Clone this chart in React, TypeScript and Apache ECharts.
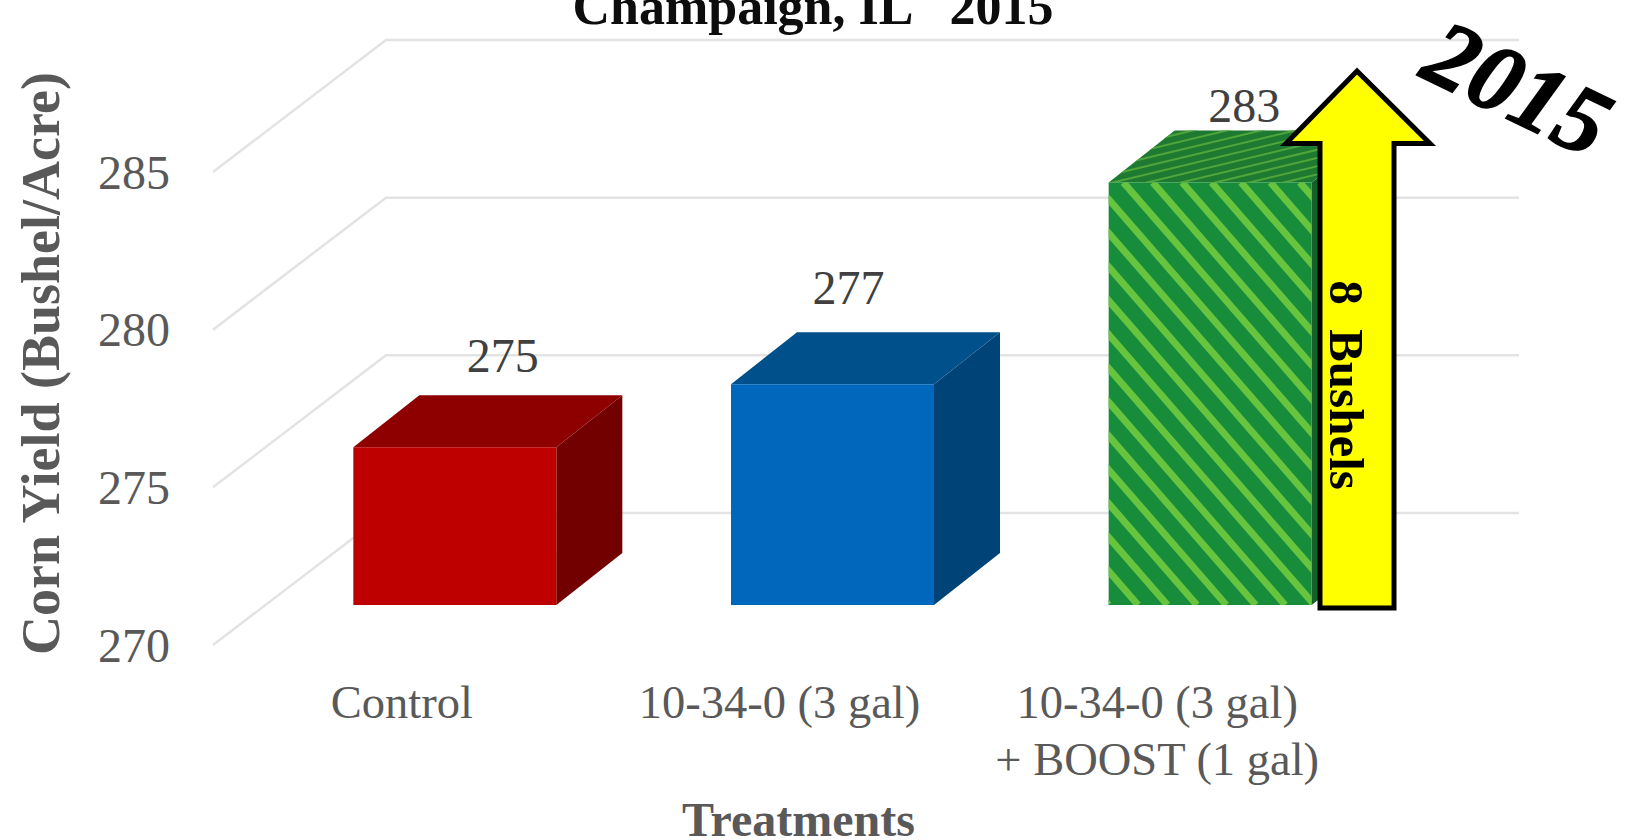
import React, { useEffect, useRef } from "react";
import * as echarts from "echarts";

const categories = ["Control", "10-34-0 (3 gal)", "10-34-0 (3 gal)\n+ BOOST (1 gal)"];
const yieldValues = [275, 277, 283.4];
const gridTicks = [270, 275, 280, 285];
const titleText = "Champaign, IL   2015";
const yearStamp = "2015";
const arrowText = "8  Bushels";
const yAxisTitle = "Corn Yield (Bushel/Acre)";
const xAxisTitle = "Treatments";

const SERIF = "'Liberation Serif', 'DejaVu Serif', serif";
const faces = [
  { front: "#BE0000", top: "#8E0000", side: "#720000" },
  { front: "#0068BC", top: "#00508C", side: "#004377" },
  { front: "#178C3A", top: "#1E7A30", side: "#145F2A", stripe: "#66C43F", topStripe: "#4FA63A" },
];
const labelNudge = [[48, -92], [16, -97], [34, -77]];
const wallDepth = [173, 132];
const barInset = [53, 40];
const barDepth = [66, 52];

function renderGrid(params: any, api: any) {
  const p = api.coord([0, api.value(1)]);
  const x0 = params.coordSys.x;
  const x1 = x0 + params.coordSys.width;
  const y = p[1];
  const style = { stroke: "#E3E3E3", lineWidth: 2.5, fill: "none" };
  return {
    type: "polyline",
    shape: { points: [[x0, y], [x0 + wallDepth[0], y - wallDepth[1]], [x1 + wallDepth[0], y - wallDepth[1]]] },
    style,
  };
}

function renderBar(params: any, api: any) {
  const i = api.value(0);
  const v = api.value(1);
  const top = api.coord([i, v]);
  const base = api.coord([i, 270]);
  const w = api.size([1, 0])[0] * 0.5375;
  const x = top[0] + barInset[0] - w / 2;
  const yT = top[1] - barInset[1];
  const yB = base[1] - barInset[1];
  const [dx, dy] = barDepth;
  const c: any = faces[i];
  const children: any[] = [
    { type: "polygon", shape: { points: [[x + w, yT], [x + w + dx, yT - dy], [x + w + dx, yB - dy], [x + w, yB]] }, style: { fill: c.side } },
    { type: "polygon", shape: { points: [[x, yT], [x + w, yT], [x + w + dx, yT - dy], [x + dx, yT - dy]] }, style: { fill: c.top } },
    { type: "rect", shape: { x, y: yT, width: w, height: yB - yT }, style: { fill: c.front } },
  ];
  if (c.stripe) {
    const period = 29.4;
    const slope = 1.15;
    const h = yB - yT;
    const lines: any[] = [];
    for (let sx = x - h / slope - period; sx < x + w + period; sx += period) {
      lines.push({
        type: "line",
        shape: { x1: sx, y1: yT, x2: sx + h / slope, y2: yB },
        style: { stroke: c.stripe, lineWidth: 7 },
      });
    }
    children.push({ type: "group", clipPath: { type: "rect", shape: { x, y: yT, width: w, height: h } }, children: lines });
    const topLines: any[] = [];
    const rise = 0.24;
    for (let k = -6; k < 14; k++) {
      const y0 = yT - k * 8.2 + 1;
      topLines.push({
        type: "line",
        shape: { x1: x, y1: y0, x2: x + w + dx, y2: y0 - rise * (w + dx) },
        style: { stroke: c.topStripe, lineWidth: 2 },
      });
    }
    children.push({
      type: "group",
      clipPath: { type: "polygon", shape: { points: [[x, yT], [x + w, yT], [x + w + dx, yT - dy], [x + dx, yT - dy]] } },
      children: topLines,
    });
  }
  const [nx, ny] = labelNudge[i];
  children.push({
    type: "text",
    x: x + w / 2 + nx,
    y: yT + ny,
    style: {
      text: String(Math.round(v)),
      fill: "#404040",
      font: `48px ${SERIF}`,
      textAlign: "center",
      textVerticalAlign: "middle",
    },
  });
  return { type: "group", children };
}

export default function App() {
  const ref = useRef<HTMLDivElement>(null);
  useEffect(() => {
    document.body.style.margin = "0";
    document.body.style.overflow = "hidden";
    const chart = echarts.init(ref.current!, null, { renderer: "svg" });
    chart.setOption({
      animation: false,
      backgroundColor: "#FFFFFF",
      title: {
        text: titleText,
        left: 808,
        top: -25,
        textAlign: "center",
        textStyle: { fontFamily: SERIF, fontWeight: "bold", fontSize: 52, color: "#0D0D0D" },
      },
      grid: { left: 213, top: 172, width: 1133, height: 473, outerBoundsMode: "none" },
      xAxis: {
        type: "category",
        data: categories,
        axisLine: { show: false },
        axisTick: { show: false },
        axisLabel: { fontFamily: SERIF, fontSize: 46.5, color: "#595959", margin: 29, lineHeight: 57, interval: 0 },
        name: xAxisTitle,
        nameLocation: "middle",
        nameGap: 150,
        nameTextStyle: { fontFamily: SERIF, fontWeight: "bold", fontSize: 48, color: "#595959", padding: [0, 0, 0, 38] },
      },
      yAxis: {
        type: "value",
        min: 270,
        max: 285,
        interval: 5,
        splitLine: { show: false },
        axisLine: { show: false },
        axisTick: { show: false },
        axisLabel: { fontFamily: SERIF, fontSize: 48, color: "#595959", margin: 43 },
        name: yAxisTitle,
        nameLocation: "middle",
        nameGap: 145,
        nameRotate: 90,
        nameTextStyle: { fontFamily: SERIF, fontWeight: "bold", fontSize: 54, color: "#595959", padding: [0, 0, 0, 90] },
      },
      series: [
        { type: "custom", z: 1, silent: true, data: gridTicks.map((t) => [0, t]), renderItem: renderGrid, encode: { x: 0, y: 1 } },
        { type: "custom", z: 2, silent: true, data: yieldValues.map((v, i) => [i, v]), renderItem: renderBar, encode: { x: 0, y: 1 } },
      ],
      graphic: [
        {
          type: "polygon",
          z: 20,
          shape: { points: [[1357, 71], [1430, 143.5], [1394, 143.5], [1394, 608], [1320, 608], [1320, 143.5], [1286, 143.5]] },
          style: { fill: "#FFFF00", stroke: "#000000", lineWidth: 5, lineJoin: "miter" },
        },
        {
          type: "text",
          z: 21,
          x: 1346,
          y: 385,
          rotation: -Math.PI / 2,
          style: { text: arrowText, fill: "#000000", font: `bold 49px ${SERIF}`, textAlign: "center", textVerticalAlign: "middle" },
        },
        {
          type: "text",
          z: 21,
          x: 1518,
          y: 88,
          rotation: -0.45,
          style: { text: yearStamp, fill: "#000000", stroke: "#000000", lineWidth: 1.5, font: `italic bold 96px ${SERIF}`, textAlign: "center", textVerticalAlign: "middle" },
        },
      ],
    });
    return () => chart.dispose();
  }, []);
  return <div ref={ref} style={{ width: 1626, height: 840 }} />;
}
